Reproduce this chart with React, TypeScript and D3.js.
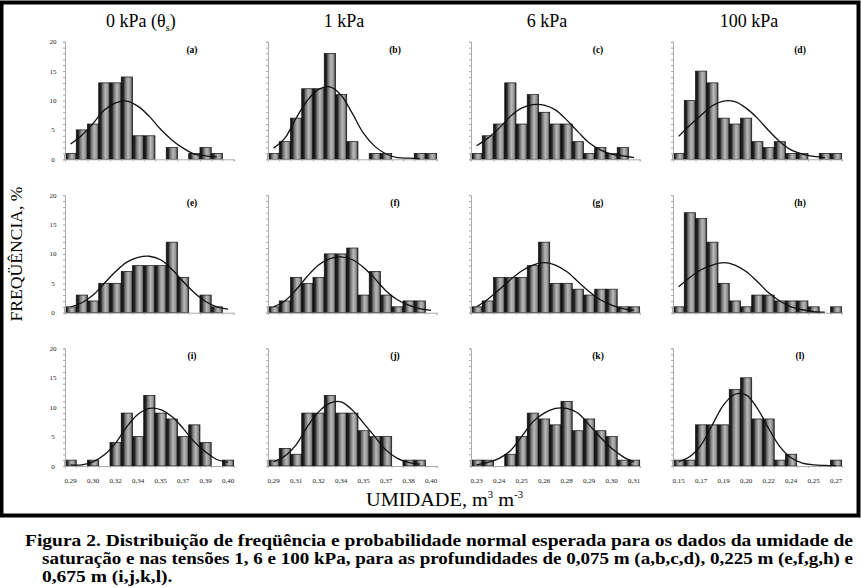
import * as d3 from "d3";
import { useEffect, useRef } from "react";

const WIDTH = 861;
const HEIGHT = 588;
const FONT = "'Liberation Serif', 'Times New Roman', Times, serif";

// layout (px)
const COL_X = [65, 268, 471, 673];
const PANEL_W = 168.7;
const ROW_Y0 = [159.3, 312.7, 466];
const PANEL_H = 117.6;
const N_BINS = 15;

const TITLES = ["0 kPa (θ", "1 kPa", "6 kPa", "100 kPa"];
const LETTERS = ["(a)", "(b)", "(c)", "(d)", "(e)", "(f)", "(g)", "(h)", "(i)", "(j)", "(k)", "(l)"];

// rótulos do eixo x (linha de baixo), a cada duas classes
const TICKS_1 = ["0,29", "0,30", "0,32", "0,34", "0,35", "0,37", "0,39", "0,40"];
const TICKS_2 = ["0,29", "0,31", "0,32", "0,34", "0,35", "0,37", "0,38", "0,40"];
const TICKS_3 = ["0,23", "0,24", "0,25", "0,26", "0,28", "0,29", "0,30", "0,31"];
const TICKS_4 = ["0,15", "0,17", "0,19", "0,20", "0,22", "0,24", "0,25", "0,27"];
const Y_TICKS = [0, 5, 10, 15, 20];

// frequência observada (%)
const FREQ_A = [1, 5, 6, 13, 13, 14, 4, 4, 0, 2, 0, 1, 2, 1, 0];
const FREQ_B = [1, 3, 7, 12, 12, 18, 11, 3, 0, 1, 1, 0, 0, 1, 1];
const FREQ_C = [1, 4, 6, 13, 6, 11, 8, 6, 6, 3, 1, 2, 1, 2, 0];
const FREQ_D = [1, 10, 15, 13, 7, 6, 7, 3, 2, 3, 1, 1, 0, 1, 1];
const FREQ_E = [1, 3, 2, 5, 5, 7, 8, 8, 8, 12, 6, 0, 3, 1, 0];
const FREQ_F = [1, 2, 6, 5, 6, 10, 10, 11, 3, 7, 3, 1, 2, 2, 0];
const FREQ_G = [1, 2, 6, 6, 6, 8, 12, 5, 5, 4, 3, 4, 4, 1, 1];
const FREQ_H = [1, 17, 16, 12, 5, 2, 1, 3, 3, 2, 2, 2, 1, 0, 1];
const FREQ_I = [1, 0, 1, 0, 4, 9, 5, 12, 9, 8, 5, 7, 4, 0, 1];
const FREQ_J = [1, 3, 2, 9, 9, 12, 9, 9, 6, 5, 5, 0, 1, 1, 0];
const FREQ_K = [1, 1, 0, 2, 5, 9, 8, 7, 11, 6, 8, 6, 5, 1, 1];
const FREQ_L = [1, 1, 7, 7, 7, 13, 15, 8, 8, 1, 2, 0, 0, 0, 1];

// probabilidade normal esperada (%), lida no centro de cada classe
const NORM_A = [2.6, 4.1, 6.1, 8.4, 9.6, 9.9, 9.0, 7.3, 5.1, 3.3, 1.9, 0.9, 0.6, 0.4, null];
const NORM_B = [1.9, 3.6, 7.0, 10.0, 11.9, 12.3, 10.9, 7.8, 4.4, 2.2, 0.9, 0.3, 0.2, 0.1, null];
const NORM_C = [2.3, 3.6, 5.3, 7.3, 8.7, 9.3, 9.2, 8.4, 6.7, 4.7, 2.8, 1.6, 0.9, 0.6, 0.3];
const NORM_D = [3.9, 5.8, 7.5, 9.1, 9.9, 9.8, 8.7, 7.0, 4.9, 3.0, 1.6, 0.9, 0.5, 0.3, null];
const NORM_E = [1.0, 1.7, 3.0, 5.0, 7.0, 8.6, 9.4, 9.6, 9.0, 7.4, 5.3, 3.4, 1.9, 1.0, 0.6];
const NORM_F = [1.0, 2.0, 3.9, 6.2, 8.1, 9.2, 9.5, 9.0, 7.7, 5.8, 3.7, 2.2, 1.3, 0.7, 0.4];
const NORM_G = [1.0, 2.3, 3.9, 5.6, 7.1, 8.1, 8.5, 8.1, 7.0, 5.3, 3.6, 2.2, 1.3, 0.7, 0.4];
const NORM_H = [4.4, 6.0, 7.3, 8.1, 8.5, 8.1, 7.0, 5.3, 3.4, 2.0, 1.0, 0.5, 0.2, 0.1, null];
const NORM_I = [0.2, 0.2, 0.7, 1.9, 3.9, 6.7, 8.8, 9.8, 9.6, 8.4, 6.4, 4.1, 2.4, 1.1, 0.6];
const NORM_J = [0.7, 1.7, 3.6, 6.7, 9.2, 10.7, 10.9, 9.5, 7.3, 5.0, 2.7, 1.3, 0.6, 0.3, null];
const NORM_K = [0.2, 0.6, 1.3, 2.6, 5.0, 7.5, 9.0, 9.8, 9.8, 9.0, 7.0, 4.9, 3.0, 1.6, 0.7];
const NORM_L = [0.7, 1.6, 3.6, 7.0, 10.4, 12.2, 12.1, 9.8, 6.4, 3.3, 1.4, 0.5, 0.2, 0.1, 0.05];

const FREQS = [FREQ_A, FREQ_B, FREQ_C, FREQ_D, FREQ_E, FREQ_F, FREQ_G, FREQ_H, FREQ_I, FREQ_J, FREQ_K, FREQ_L];
const NORMS = [NORM_A, NORM_B, NORM_C, NORM_D, NORM_E, NORM_F, NORM_G, NORM_H, NORM_I, NORM_J, NORM_K, NORM_L];
const X_TICKS = [TICKS_1, TICKS_2, TICKS_3, TICKS_4];

const CAPTION = [
  "Figura 2. Distribuição de freqüência e probabilidade normal esperada para os dados da umidade de",
  "saturação e nas tensões 1, 6 e 100 kPa, para as profundidades de 0,075 m (a,b,c,d), 0,225 m (e,f,g,h) e",
  "0,675 m (i,j,k,l).",
];

export default function App() {
  const svgRef = useRef<SVGSVGElement>(null);

  useEffect(() => {
    if (!svgRef.current) return;
    const svg = d3.select(svgRef.current);
    svg.selectAll("*").remove();

    svg.append("rect").attr("width", WIDTH).attr("height", HEIGHT).attr("fill", "#fff");

    // moldura preta
    svg
      .append("rect")
      .attr("x", 1.5)
      .attr("y", 2.5)
      .attr("width", WIDTH - 4)
      .attr("height", 513)
      .attr("fill", "none")
      .attr("stroke", "#000")
      .attr("stroke-width", 4);

    const defs = svg.append("defs");
    const grad = defs
      .append("linearGradient")
      .attr("id", "barfill")
      .attr("x1", "0")
      .attr("x2", "1")
      .attr("y1", "0")
      .attr("y2", "0");
    [
      [0, "#101010"],
      [0.2, "#262626"],
      [0.34, "#707070"],
      [0.6, "#b8b8b8"],
      [0.82, "#959595"],
      [1, "#353535"],
    ].forEach(([o, c]) => grad.append("stop").attr("offset", o as number).attr("stop-color", c as string));

    const x = d3.scaleLinear().domain([0, N_BINS]).range([0, PANEL_W]);
    const y = d3.scaleLinear().domain([0, 20]).range([0, -PANEL_H]);

    FREQS.forEach((freq, p) => {
      const col = p % 4;
      const row = Math.floor(p / 4);
      const g = svg.append("g").attr("transform", `translate(${COL_X[col]},${ROW_Y0[row]})`);

      // barras
      g.selectAll("rect.bar")
        .data(freq.map((v, i) => ({ v, i })).filter((d) => d.v > 0))
        .enter()
        .append("rect")
        .attr("class", "bar")
        .attr("x", (d) => x(d.i))
        .attr("width", x(1))
        .attr("y", (d) => y(d.v))
        .attr("height", (d) => -y(d.v))
        .attr("fill", "url(#barfill)")
        .attr("stroke", "#111")
        .attr("stroke-width", 0.7);

      // eixo x
      const xa = g
        .append("g")
        .call(d3.axisBottom(x).tickValues(d3.range(N_BINS + 1)).tickSize(2).tickFormat(() => ""));
      xa.select(".domain").attr("stroke", "#aaa");
      xa.selectAll(".tick line").attr("stroke", "#aaa");

      // eixo y
      const ya = g
        .append("g")
        .call(d3.axisLeft(y).tickValues(d3.range(0, 21)).tickSize(2).tickFormat(() => ""));
      ya.select(".domain").attr("stroke", "#aaa");
      ya.selectAll(".tick line").attr("stroke", "#aaa");

      if (col === 0) {
        g.selectAll("text.yt")
          .data(Y_TICKS)
          .enter()
          .append("text")
          .attr("class", "yt")
          .attr("x", -12)
          .attr("y", (d) => y(d) + 2.5)
          .attr("text-anchor", "middle")
          .attr("font-family", FONT)
          .attr("font-size", 7)
          .attr("fill", "#222")
          .text((d) => d);
      }

      if (row === 2) {
        g.selectAll("text.xt")
          .data(X_TICKS[col])
          .enter()
          .append("text")
          .attr("class", "xt")
          .attr("x", (_, i) => x(i * 2 + 0.5))
          .attr("y", 17)
          .attr("text-anchor", "middle")
          .attr("font-family", FONT)
          .attr("font-size", 7)
          .attr("fill", "#222")
          .text((d) => d);
      }

      // curva normal
      const norm = NORMS[p];
      const line = d3
        .line<number | null>()
        .defined((d) => d !== null)
        .x((_, i) => x(i + 0.5))
        .y((d) => y(d as number))
        .curve(d3.curveCatmullRom);
      g.append("path")
        .attr("d", line(norm))
        .attr("fill", "none")
        .attr("stroke", "#111")
        .attr("stroke-width", 1.3);

      g.append("text")
        .attr("x", 127)
        .attr("y", -PANEL_H + 11)
        .attr("text-anchor", "middle")
        .attr("font-family", FONT)
        .attr("font-size", 9.5)
        .attr("font-weight", "bold")
        .text(LETTERS[p]);
    });

    // títulos das colunas
    TITLES.forEach((t, i) => {
      const txt = svg
        .append("text")
        .attr("x", COL_X[i] + PANEL_W * 0.45)
        .attr("y", 27)
        .attr("text-anchor", "middle")
        .attr("font-family", FONT)
        .attr("font-size", 18)
        .text(t);
      if (i === 0) {
        txt.append("tspan").attr("font-size", 11).attr("dy", 4).text("s");
        txt.append("tspan").attr("dy", -4).text(")");
      }
    });

    // rótulos dos eixos
    svg
      .append("text")
      .attr("transform", "translate(22,254) rotate(-90)")
      .attr("text-anchor", "middle")
      .attr("font-family", FONT)
      .attr("font-size", 17)
      .attr("textLength", 135)
      .attr("lengthAdjust", "spacingAndGlyphs")
      .text("FREQÜÊNCIA, %");

    const xl = svg
      .append("text")
      .attr("x", 366)
      .attr("y", 506)
      .attr("font-family", FONT)
      .attr("font-size", 19)
      .attr("textLength", 157)
      .attr("lengthAdjust", "spacingAndGlyphs")
      .text("UMIDADE, m");
    xl.append("tspan").attr("font-size", 10).attr("dy", -8).text("3");
    xl.append("tspan").attr("dy", 8).text(" m");
    xl.append("tspan").attr("font-size", 10).attr("dy", -8).text("-3");

    // legenda da figura (linhas 1 e 2 justificadas; a 3ª com a mesma escala horizontal)
    const capX = [25, 42, 42];
    const capLen = [828, 811];
    const caps = CAPTION.map((line, i) =>
      svg
        .append("text")
        .attr("x", capX[i])
        .attr("y", 546 + i * 18)
        .attr("font-family", FONT)
        .attr("font-size", 17)
        .attr("font-weight", "bold")
        .text(line)
    );
    const natural = caps.map((t) => (t.node() as SVGTextElement).getComputedTextLength());
    const stretch = capLen[0] / natural[0];
    caps.forEach((t, i) => {
      const len = capLen[i] ?? natural[i] * stretch;
      t.attr("textLength", len).attr("lengthAdjust", "spacingAndGlyphs");
    });
  }, []);

  return (
    <svg
      ref={svgRef}
      width={WIDTH}
      height={HEIGHT}
      style={{ position: "absolute", left: 0, top: 0 }}
    ></svg>
  );
}
